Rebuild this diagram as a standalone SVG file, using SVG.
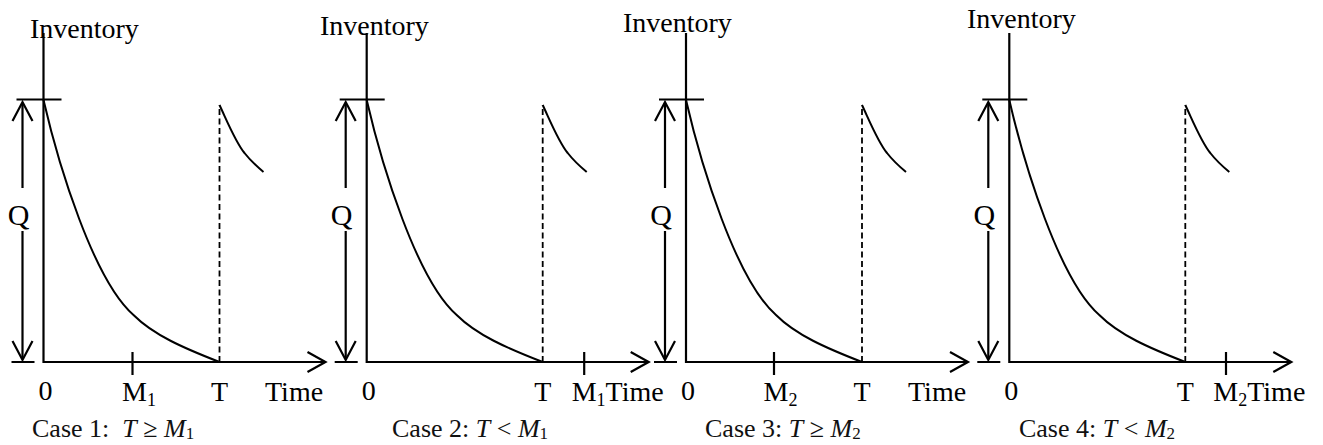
<svg xmlns="http://www.w3.org/2000/svg" width="1323" height="445" viewBox="0 0 1323 445">
<defs>
<style>
.ln{fill:none;stroke:#000;stroke-width:2.2;stroke-linecap:butt}
.cv{fill:none;stroke:#000;stroke-width:2}
.ds{fill:none;stroke:#000;stroke-width:1.8;stroke-dasharray:6 3.5}
.lb{font-family:"Liberation Serif","Times New Roman",serif;font-size:28px;fill:#000}
.q{font-size:30px}
.cp{font-family:"Liberation Serif","Times New Roman",serif;font-size:26px;fill:#111}
.it{font-style:italic}
</style>
<g id="frame">
<path class="ln" d="M0,33 V362 H281"/>
<polyline class="ln" points="264,352 282,362 264,372"/>
<path class="ln" d="M-27,99.5 H18 M-32,362 H-9"/>
<path class="ln" d="M-21,103 V188 M-21,231 V359"/>
<polyline class="ln" points="-31,121 -21,102 -11,121"/>
<polyline class="ln" points="-31,341 -21,360 -11,341"/>
<path class="cv" d="M0,100 C15,165 50,280 90,315 C110,335 140,348 176,362"/>
<path class="ds" d="M176,362 V105"/>
<path class="cv" d="M176,105 C184,122 192,142 201,153 C208,162 214,167 220,172"/>
<text class="lb q" x="-25" y="225" text-anchor="middle">Q</text>
<text class="lb" x="2" y="400" text-anchor="middle">0</text>
<text class="lb" x="176" y="401" text-anchor="middle">T</text>
</g>
</defs>
<g id="case1" transform="translate(43.5,0)">
<use href="#frame"/>
<text class="lb" x="-13.5" y="37.5">Inventory</text>
<path class="ln" d="M89,352 V375"/>
<text class="lb" x="78.5" y="401">M<tspan font-size="18" dy="5">1</tspan></text>
<text class="lb" x="221.5" y="401">Time</text>
<text class="cp" x="-11.5" y="437">Case 1:&#160; <tspan class="it">T</tspan> ≥ <tspan class="it">M</tspan><tspan font-size="17" dy="2">1</tspan></text>
</g>
<g id="case2" transform="translate(366.7,0)">
<use href="#frame"/>
<text class="lb" x="-46.7" y="35">Inventory</text>
<path class="ln" d="M217.5,352 V375"/>
<text class="lb" x="205" y="401">M<tspan font-size="18" dy="5">1</tspan><tspan dy="-5">Time</tspan></text>
<text class="cp" x="25.3" y="437">Case 2: <tspan class="it">T</tspan> &lt; <tspan class="it">M</tspan><tspan font-size="17" dy="2">1</tspan></text>
</g>
<g id="case3" transform="translate(686,0)">
<use href="#frame"/>
<text class="lb" x="-63" y="32">Inventory</text>
<path class="ln" d="M88,352 V375"/>
<text class="lb" x="77.5" y="401">M<tspan font-size="18" dy="5">2</tspan></text>
<text class="lb" x="222" y="401">Time</text>
<text class="cp" x="19" y="437">Case 3: <tspan class="it">T</tspan> ≥ <tspan class="it">M</tspan><tspan font-size="17" dy="2">2</tspan></text>
</g>
<g id="case4" transform="translate(1009.3,0)">
<use href="#frame"/>
<text class="lb" x="-42.3" y="28">Inventory</text>
<path class="ln" d="M216.7,352 V375"/>
<text class="lb" x="204" y="401">M<tspan font-size="18" dy="5">2</tspan><tspan dy="-5">Time</tspan></text>
<text class="cp" x="9.7" y="437">Case 4: <tspan class="it">T</tspan> &lt; <tspan class="it">M</tspan><tspan font-size="17" dy="2">2</tspan></text>
</g>
</svg>
